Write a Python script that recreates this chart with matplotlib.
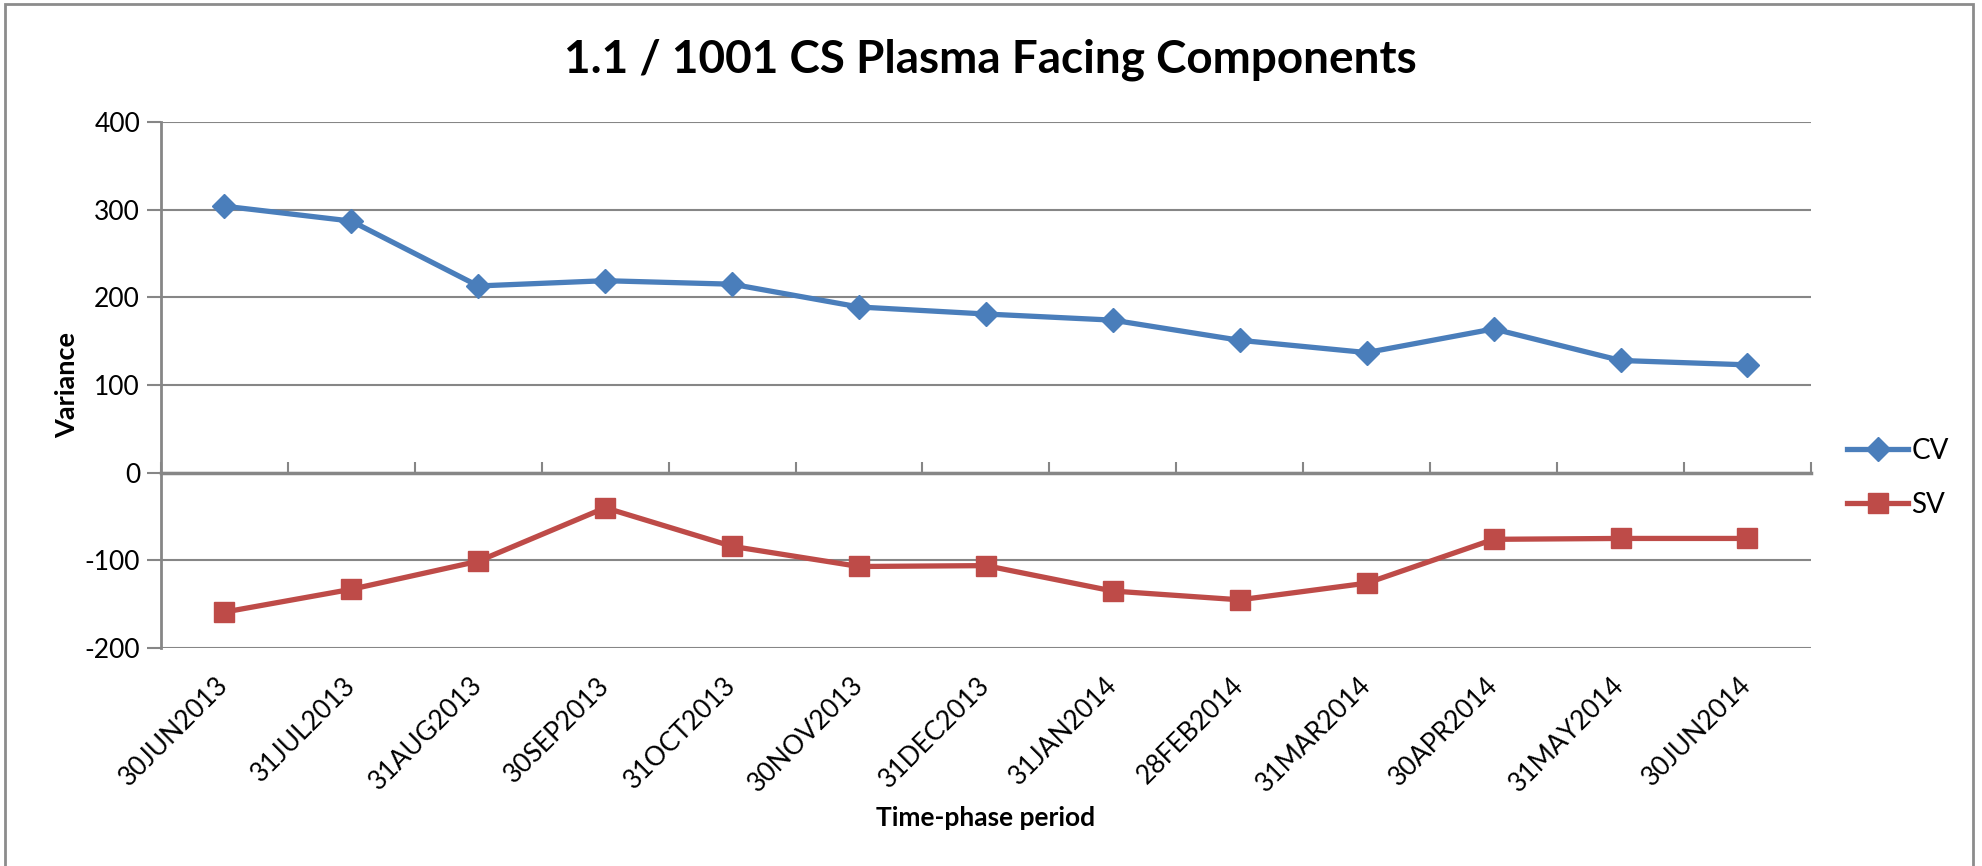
import matplotlib
matplotlib.use('Agg')
import matplotlib.pyplot as plt
from matplotlib.patches import Rectangle

periods = ['30JUN2013', '31JUL2013', '31AUG2013', '30SEP2013', '31OCT2013',
           '30NOV2013', '31DEC2013', '31JAN2014', '28FEB2014', '31MAR2014',
           '30APR2014', '31MAY2014', '30JUN2014']
cv = [304, 287, 213, 219, 215, 189, 181, 174, 151, 137, 164, 128, 123]
sv = [-159, -133, -101, -40, -84, -107, -106, -135, -145, -126, -76, -75, -75]
yticks = [-200, -100, 0, 100, 200, 300, 400]

plt.rcParams['font.family'] = ['Lato', 'DejaVu Sans']
plt.rcParams['axes.unicode_minus'] = False
grey = '#868686'

fig = plt.figure(figsize=(19.82, 8.66), dpi=100)
ax = fig.add_axes([0.0812, 0.2517, 0.8325, 0.6074])

x = [i + 0.5 for i in range(len(periods))]
ax.plot(x, cv, color='#4A7EBB', lw=3.8, marker='D', ms=12.5, label='CV')
ax.plot(x, sv, color='#BE4B48', lw=3.8, marker='s', ms=14, label='SV')

ax.set_xlim(0, len(periods))
ax.set_ylim(-200, 400)
ax.set_yticks(yticks)
ax.yaxis.grid(True, color=grey, lw=1.5)
ax.set_axisbelow(True)
ax.tick_params(axis='y', direction='out', length=10, width=1.5, color=grey,
               labelsize=19, pad=5)

# horizontal axis crosses at zero, with tick marks between categories
for s in ['top', 'right']:
    ax.spines[s].set_visible(False)
ax.spines['left'].set_color(grey)
ax.spines['left'].set_linewidth(2)
ax.spines['bottom'].set_position(('data', 0))
ax.spines['bottom'].set_color(grey)
ax.spines['bottom'].set_linewidth(2.5)
ax.set_xticks(range(len(periods) + 1))
ax.tick_params(axis='x', direction='in', length=8, width=1.5, color=grey,
               labelbottom=False)

# category labels sit at the bottom of the plot
sec = ax.secondary_xaxis(0.0)
sec.set_xticks(x)
sec.set_xticklabels(periods, rotation=45, ha='right', va='center',
                    rotation_mode='anchor', fontsize=19)
sec.tick_params(length=0, pad=24)
sec.spines['bottom'].set_visible(False)

ax.set_ylabel('Variance', fontsize=19.5, fontweight='bold', labelpad=4)
fig.text(0.4975, 0.0555, 'Time-phase period', ha='center', va='center',
         fontsize=19, fontweight='bold')
fig.text(0.4995, 0.931, '1.1 / 1001 CS Plasma Facing Components', ha='center',
         va='center', fontsize=33, fontweight='bold')

ax.legend(loc='center left', bbox_to_anchor=(0.925, 0.448),
          bbox_transform=fig.transFigure, frameon=False, fontsize=20,
          handlelength=2.2, handletextpad=0.1, labelspacing=1.0, borderpad=0)

fig.patches.append(Rectangle((0.0025, -0.02), 0.993, 1.0154, transform=fig.transFigure,
                             fill=False, edgecolor='#8c8c8c', lw=2))

plt.savefig('out.png', dpi=100)
